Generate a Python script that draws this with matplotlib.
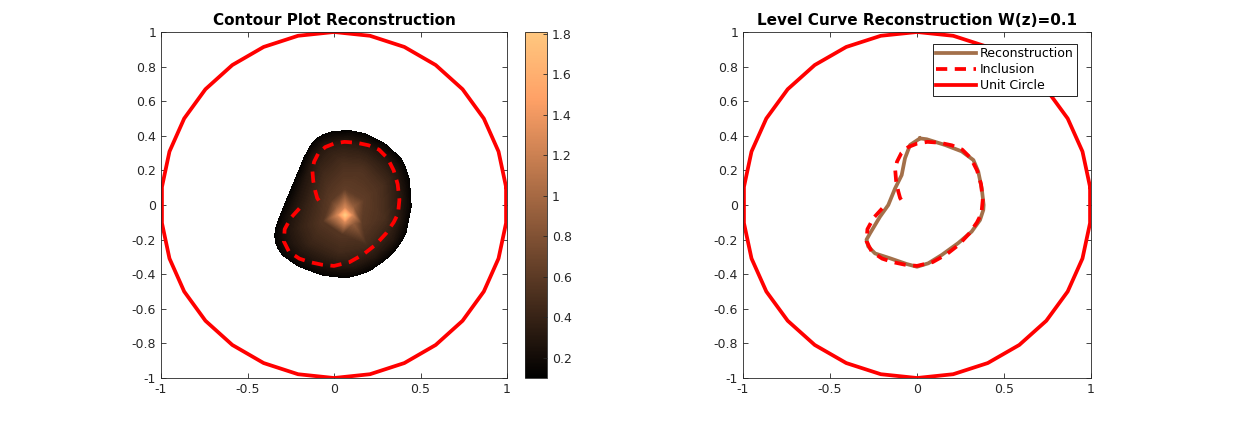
import numpy as np
import matplotlib
matplotlib.use("Agg")
import matplotlib.pyplot as plt
import matplotlib.tri as mtri
from matplotlib.colors import Normalize
from matplotlib.cm import ScalarMappable

# -----------------------
# Data
# -----------------------
# unit circle drawn as a coarse polygon (vertex angles, degrees)
circle_deg = [6, 18, 30, 42, 54, 66, 78, 90, 102, 114, 126, 138, 150, 162, 174,
              186, 198, 210, 222, 234, 246, 258, 270, 282, 294, 306, 318, 330,
              342, 354, 366]

# inclusion (dashed, open curve ending in the notch)
inc_x = [-0.2, -0.25, -0.285, -0.29, -0.26, -0.2, -0.14, -0.07, 0.0, 0.09,
         0.17, 0.24, 0.3, 0.345, 0.37, 0.378, 0.368, 0.345, 0.31, 0.26, 0.2,
         0.13, 0.06, 0.0, -0.05, -0.09, -0.115, -0.125, -0.12, -0.108, -0.097,
         -0.085]
inc_y = [-0.02, -0.075, -0.14, -0.21, -0.27, -0.31, -0.33, -0.345, -0.352,
         -0.33, -0.285, -0.23, -0.165, -0.1, -0.05, 0.03, 0.12, 0.2, 0.27, 0.32,
         0.345, 0.36, 0.365, 0.355, 0.335, 0.3, 0.25, 0.2, 0.14, 0.08, 0.04,
         0.022]

# reconstruction level curve W(z)=0.1
rec_x = [0.017, 0.056, 0.161, 0.257, 0.324, 0.352, 0.372, 0.383, 0.381, 0.362,
         0.314, 0.237, 0.142, 0.065, 0.0, -0.06, -0.155, -0.241, -0.28, -0.29,
         -0.27, -0.213, -0.165, -0.126, -0.088, -0.069, -0.04, 0.017]
rec_y = [0.385, 0.38, 0.347, 0.31, 0.26, 0.193, 0.096, 0.0, -0.029, -0.087,
         -0.154, -0.22, -0.289, -0.337, -0.357, -0.341, -0.308, -0.28, -0.24,
         -0.2, -0.164, -0.068, 0.0, 0.096, 0.173, 0.27, 0.347, 0.385]

# edge of the shaded region
edge_x = [0.054, -0.005, -0.062, -0.106, -0.139, -0.172, -0.197, -0.228, -0.254,
          -0.285, -0.312, -0.332, -0.341, -0.338, -0.322, -0.295, -0.254, -0.2,
          -0.139, -0.064, 0.015, 0.073, 0.13, 0.203, 0.266, 0.331, 0.382, 0.415,
          0.43, 0.445, 0.44, 0.434, 0.41, 0.384, 0.343, 0.29, 0.227, 0.181,
          0.13, 0.092]
edge_y = [0.424, 0.425, 0.405, 0.378, 0.337, 0.272, 0.202, 0.136, 0.068, 0.0,
          -0.068, -0.121, -0.173, -0.215, -0.25, -0.291, -0.318, -0.355, -0.376,
          -0.405, -0.414, -0.42, -0.405, -0.38, -0.337, -0.286, -0.221, -0.158,
          -0.087, -0.01, 0.068, 0.147, 0.22, 0.27, 0.308, 0.355, 0.385, 0.41,
          0.418, 0.428]
edge_w = 0.12

# sampled field values inside the region
inner_x = [0.056, -0.043, -0.109, -0.158, -0.206, -0.256, -0.28, -0.264, -0.206,
           -0.109, 0.022, 0.12, 0.236, 0.334, 0.375, 0.384, 0.358, 0.301, 0.203,
           0.12,
           0.058, -0.058, -0.127, -0.179, -0.127, 0.035, 0.185, 0.284, 0.272, 0.162,
           0.061, -0.014, -0.058, 0.049, 0.159, 0.168,
           0.064, 0.104, 0.024, 0.064, 0.064, 0.11, 0.018, 0.018, 0.11]
inner_y = [0.352, 0.336, 0.278, 0.163, 0.049, -0.067, -0.156, -0.221, -0.279,
           -0.328, -0.361, -0.353, -0.295, -0.197, -0.083, 0.049, 0.178, 0.253,
           0.319, 0.347,
           0.231, 0.179, 0.018, -0.127, -0.214, -0.272, -0.225, -0.075, 0.109, 0.208,
           0.087, 0.02, -0.093, -0.165, -0.107, 0.025,
           -0.058, -0.058, -0.058, -0.018, -0.098, -0.012, -0.012, -0.104, -0.104]
inner_w = [0.33, 0.32, 0.3, 0.28, 0.26, 0.25, 0.24, 0.24, 0.25, 0.26, 0.27, 0.28,
           0.29, 0.3, 0.3, 0.3, 0.3, 0.3, 0.31, 0.32,
           0.5, 0.45, 0.42, 0.4, 0.42, 0.45, 0.48, 0.5, 0.5, 0.52,
           0.62, 0.6, 0.56, 0.56, 0.6, 0.62,
           1.81, 1.25, 1.25, 1.25, 1.25, 0.9, 0.9, 0.9, 0.9]

w_min, w_max = 0.1, 1.81
cbar_ticks = [0.2, 0.4, 0.6, 0.8, 1.0, 1.2, 1.4, 1.6, 1.8]
cbar_labels = ["0.2", "0.4", "0.6", "0.8", "1", "1.2", "1.4", "1.6", "1.8"]
x_ticks = [-1, -0.5, 0, 0.5, 1]
x_labels = ["-1", "-0.5", "0", "0.5", "1"]
y_ticks = [-1, -0.8, -0.6, -0.4, -0.2, 0, 0.2, 0.4, 0.6, 0.8, 1]
y_labels = ["-1", "-0.8", "-0.6", "-0.4", "-0.2", "0", "0.2", "0.4", "0.6", "0.8", "1"]

# -----------------------
# Figure
# -----------------------
W, H = 1244, 425
fig = plt.figure(figsize=(W / 100, H / 100), dpi=100)
ax1 = fig.add_axes([161 / W, (H - 378) / H, 346 / W, 346 / H])
cax = fig.add_axes([525 / W, (H - 378) / H, 22 / W, 346 / H])
ax2 = fig.add_axes([743 / W, (H - 378) / H, 348 / W, 346 / H])

txt = "#262626"
red = (1, 0, 0)
brown = (0.64, 0.44, 0.29)
dash = (0, (3, 2))
lw = 2.7

th = np.deg2rad(circle_deg)
cx, cy = np.cos(th), np.sin(th)

# left: contour plot
px = np.array(edge_x + inner_x)
py = np.array(edge_y + inner_y)
pw = np.array([edge_w] * len(edge_x) + inner_w)
tri = mtri.Triangulation(px, py)
levels = np.linspace(w_min, w_max, 150)
cf = ax1.tricontourf(tri, pw, levels=levels, cmap="copper", vmin=w_min, vmax=w_max)
cf.set_edgecolor("face")
cf.set_linewidth(0.3)
ax1.plot(inc_x, inc_y, color=red, lw=lw, linestyle=dash)
ax1.plot(cx, cy, color=red, lw=lw)
ax1.set_title("Contour Plot Reconstruction", fontsize=11, fontweight="bold", pad=5)

sm = ScalarMappable(norm=Normalize(w_min, w_max), cmap="copper")
cb = fig.colorbar(sm, cax=cax)
cb.set_ticks(cbar_ticks)
cb.set_ticklabels(cbar_labels)
cb.ax.tick_params(direction="in", length=3, labelsize=9, colors=txt, width=0.6)
cb.outline.set_linewidth(0.6)
cb.outline.set_edgecolor(txt)

# right: level curve
ax2.plot(rec_x, rec_y, color=brown, lw=lw, label="Reconstruction")
ax2.plot(inc_x, inc_y, color=red, lw=lw, linestyle=dash, label="Inclusion")
ax2.plot(cx, cy, color=red, lw=lw, label="Unit Circle")
ax2.set_title("Level Curve Reconstruction W(z)=0.1", fontsize=11, fontweight="bold", pad=5)
leg = ax2.legend(loc="upper right", bbox_to_anchor=(0.96, 0.965), borderaxespad=0,
                 fontsize=9, handlelength=3.2, handletextpad=0.3, labelspacing=0.25,
                 borderpad=0.25, fancybox=False, framealpha=1, edgecolor="black")
leg.get_frame().set_linewidth(0.6)

for ax in (ax1, ax2):
    ax.set_xlim(-1, 1)
    ax.set_ylim(-1, 1)
    ax.set_xticks(x_ticks)
    ax.set_xticklabels(x_labels)
    ax.set_yticks(y_ticks)
    ax.set_yticklabels(y_labels)
    ax.tick_params(direction="in", length=3.5, width=0.6, labelsize=9, colors=txt,
                   top=True, right=True)
    for s in ax.spines.values():
        s.set_linewidth(0.6)
        s.set_edgecolor(txt)

fig.savefig("out.png", dpi=100)
